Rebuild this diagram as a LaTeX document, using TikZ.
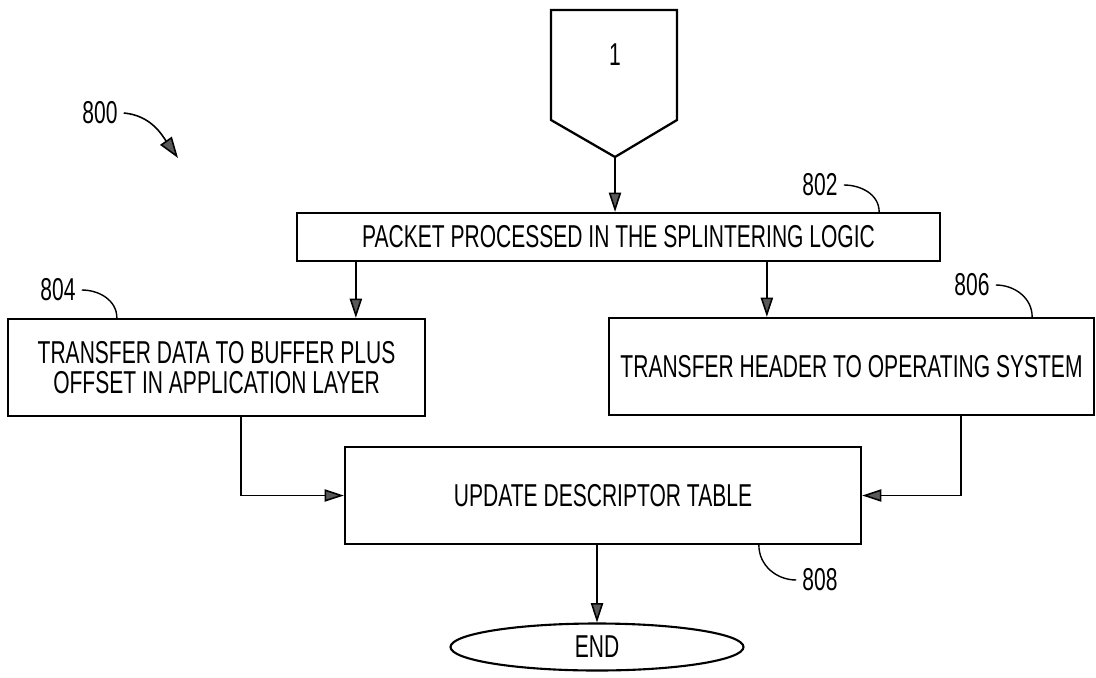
\documentclass[tikz,border=0pt]{standalone}
\usepackage{fontspec}
\setmainfont{Liberation Sans}[FakeStretch=0.665]
\usepackage{tikz}
\usetikzlibrary{positioning,calc,arrows.meta,shapes.geometric}

\begin{document}
\begin{tikzpicture}[font=\fontsize{18}{17}\selectfont,
		stepbox/.style={draw, rectangle, line width=1.3pt, align=center, inner sep=2pt},
		flow/.style={line width=0.9pt, -{Triangle[length=11pt,width=7pt,fill=black!65]}},
		leader/.style={line width=0.8pt}]
		\useasboundingbox (0,0) rectangle (21.92,-13.54);

		% off-page connector
		\draw[line width=1.3pt] (11.02,-0.2) -- (13.54,-0.2) -- (13.54,-2.4) -- (12.3,-3.14) -- (11.02,-2.4) -- cycle;
		\node (conn) at (12.3,-1.1) {1};
		\coordinate (entry) at (12.3,-3.14);

		\node[stepbox, minimum width=12.86cm, minimum height=0.96cm] (splinter) at (12.37,-4.74) {PACKET PROCESSED IN THE SPLINTERING LOGIC};
		\node[stepbox, minimum width=8.34cm, minimum height=1.94cm] (data) at (4.33,-7.35) {TRANSFER DATA TO BUFFER PLUS\\OFFSET IN APPLICATION LAYER};
		\node[stepbox, minimum width=9.70cm, minimum height=1.94cm] (header) at (17.03,-7.33) {TRANSFER HEADER TO OPERATING SYSTEM};
		\node[stepbox, minimum width=10.32cm, minimum height=1.94cm] (update) at (12.06,-9.91) {UPDATE DESCRIPTOR TABLE};
		\node[draw, ellipse, line width=1.2pt, minimum width=5.86cm, minimum height=0.94cm, inner sep=0pt] (finish) at (11.94,-12.94) {END};

		% reference numerals
		\node (n800) at (2.0,-2.26) {800};
		\node (n802) at (16.4,-3.7) {802};
		\node (n804) at (1.16,-5.8) {804};
		\node (n806) at (19.44,-5.7) {806};
		\node (n808) at (16.4,-11.6) {808};

		\draw[line width=0.9pt, -{Triangle[length=12pt,width=8pt,fill=black!65]}] (n800.east) to[out=-5, in=125] (3.56,-3.16);
		\draw[leader] (n802.east) to[out=0, in=90] ($(splinter.north east)+(-1.24,0)$);
		\draw[leader] (n804.east) to[out=0, in=90] ($(data.north west)+(2.2,0)$);
		\draw[leader] (n806.east) to[out=0, in=90] ($(header.north east)+(-1.26,0)$);
		\draw[leader] ($(update.south west)+(8.3,0)$) to[out=-90, in=180] (n808.west);

		% flow
		\draw[flow] (entry) -- (entry |- splinter.north);
		\coordinate (s1) at ($(splinter.south west)+(1.2,0)$);
		\coordinate (s2) at ($(splinter.south west)+(9.42,0)$);
		\draw[flow] (s1) -- (s1 |- data.north);
		\draw[flow] (s2) -- (s2 |- header.north);
		\coordinate (d1) at ($(data.south west)+(4.68,0)$);
		\coordinate (h1) at ($(header.south west)+(7.06,0)$);
		\draw[flow] (d1) |- (update.west);
		\draw[flow] (h1) |- (update.east);
		\draw[flow] (finish.north |- update.south) -- (finish.north);
	\end{tikzpicture}
\end{document}
